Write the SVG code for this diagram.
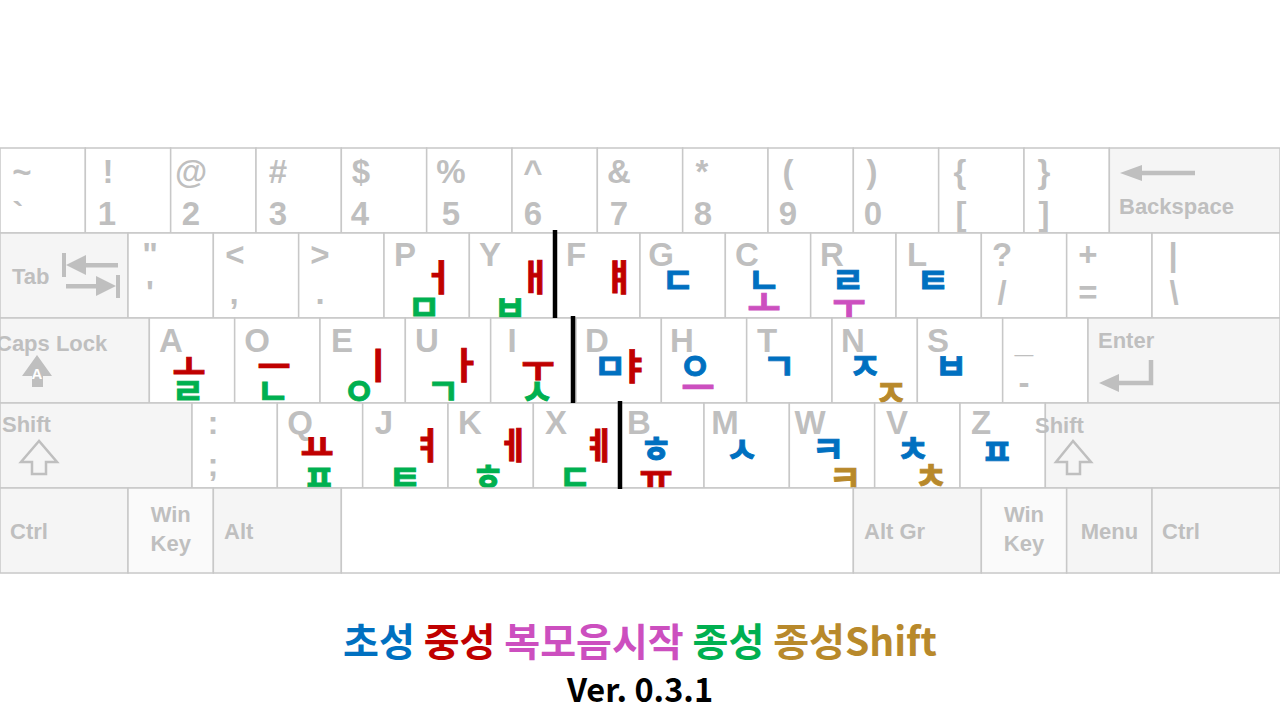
<svg xmlns="http://www.w3.org/2000/svg" width="1280" height="720" viewBox="0 0 1280 720">
<style>
.k{fill:#ffffff;stroke:#c8c8c8;stroke-width:1.5}
.m{fill:#f5f5f5;stroke:#c8c8c8;stroke-width:1.5}
.w{fill:#fafafa;stroke:#c8c8c8;stroke-width:1.5}
.l{font-family:"Liberation Sans",Arial,sans-serif;font-weight:700;font-size:33px;fill:#bfbfbf;text-anchor:middle}
.ml{font-family:"Liberation Sans",Arial,sans-serif;font-weight:700;font-size:22px;fill:#bfbfbf}
.mc{text-anchor:middle}
.j{font-family:"Noto Sans CJK KR","Noto Sans CJK SC",sans-serif;font-weight:700;font-size:36px;text-anchor:middle;stroke-width:0.9}
.b{fill:#0070c0;stroke:#0070c0}.r{fill:#c00000;stroke:#c00000}.p{fill:#cc4fbf;stroke:#cc4fbf}.g{fill:#00b050;stroke:#00b050}.y{fill:#b8892b;stroke:#b8892b}
.leg .b,.leg .r,.leg .p,.leg .g,.leg .y{stroke:none}
.ic{fill:#bfbfbf}
.ico{fill:none;stroke:#bfbfbf;stroke-width:2.5;stroke-linejoin:miter}
.sep{stroke:#000;stroke-width:4.5}
.leg{font-family:"Noto Sans CJK KR",sans-serif;font-weight:700;font-size:39px;text-anchor:middle}
</style>
<rect width="1280" height="720" fill="#ffffff"/>
<g id="row1">
<g id="key-tilde"><rect class="k" x="0" y="148" width="85.33" height="85"/><text class="l" x="22" y="183">~</text><text class="l" x="18" y="225">`</text></g>
<g id="key-1"><rect class="k" x="85.33" y="148" width="85.33" height="85"/><text class="l" x="108" y="183">!</text><text class="l" x="107" y="225">1</text></g>
<g id="key-2"><rect class="k" x="170.67" y="148" width="85.33" height="85"/><text class="l" x="191" y="183">@</text><text class="l" x="191" y="225">2</text></g>
<g id="key-3"><rect class="k" x="256" y="148" width="85.33" height="85"/><text class="l" x="278" y="183">#</text><text class="l" x="278" y="225">3</text></g>
<g id="key-4"><rect class="k" x="341.33" y="148" width="85.33" height="85"/><text class="l" x="361" y="183">$</text><text class="l" x="360" y="225">4</text></g>
<g id="key-5"><rect class="k" x="426.67" y="148" width="85.33" height="85"/><text class="l" x="451" y="183">%</text><text class="l" x="451" y="225">5</text></g>
<g id="key-6"><rect class="k" x="512" y="148" width="85.33" height="85"/><text class="l" x="533" y="183">^</text><text class="l" x="533" y="225">6</text></g>
<g id="key-7"><rect class="k" x="597.33" y="148" width="85.33" height="85"/><text class="l" x="619" y="183">&amp;</text><text class="l" x="619" y="225">7</text></g>
<g id="key-8"><rect class="k" x="682.67" y="148" width="85.33" height="85"/><text class="l" x="702" y="183">*</text><text class="l" x="703" y="225">8</text></g>
<g id="key-9"><rect class="k" x="768" y="148" width="85.33" height="85"/><text class="l" x="788" y="183">(</text><text class="l" x="788" y="225">9</text></g>
<g id="key-0"><rect class="k" x="853.33" y="148" width="85.33" height="85"/><text class="l" x="872" y="183">)</text><text class="l" x="873" y="225">0</text></g>
<g id="key-lbrace"><rect class="k" x="938.67" y="148" width="85.33" height="85"/><text class="l" x="960" y="183">{</text><text class="l" x="961" y="225">[</text></g>
<g id="key-rbrace"><rect class="k" x="1024" y="148" width="85.33" height="85"/><text class="l" x="1044" y="183">}</text><text class="l" x="1044" y="225">]</text></g>
<g id="key-backspace"><rect class="m" x="1109.33" y="148" width="170.67" height="85"/><line x1="1138" y1="173" x2="1195" y2="173" stroke="#bfbfbf" stroke-width="4.5"/><polygon class="ic" points="1120,173 1142,165 1142,181"/><text class="ml" x="1119" y="214">Backspace</text></g>
</g>
<g id="row2">
<g id="key-tab"><rect class="m" x="0" y="233" width="128" height="85"/><text class="ml" x="12" y="284">Tab</text>
<rect class="ic" x="62" y="253" width="4" height="24"/><polygon class="ic" points="66,265 86,255 86,275"/><rect class="ic" x="84" y="263" width="34" height="4.5"/>
<rect class="ic" x="116" y="275" width="4" height="23"/><polygon class="ic" points="116,286 96,276 96,296"/><rect class="ic" x="66" y="284" width="32" height="4.5"/></g>
<g id="key-quote"><rect class="k" x="128" y="233" width="85.33" height="85"/><text class="l" x="150" y="266">"</text><text class="l" x="150" y="304">'</text></g>
<g id="key-comma"><rect class="k" x="213.33" y="233" width="85.33" height="85"/><text class="l" x="235" y="266">&lt;</text><text class="l" x="234" y="304">,</text></g>
<g id="key-period"><rect class="k" x="298.67" y="233" width="85.33" height="85"/><text class="l" x="320" y="266">&gt;</text><text class="l" x="320" y="304">.</text></g>
<g id="key-p"><rect class="k" x="384" y="233" width="85.33" height="85"/><text class="l" x="405" y="266">P</text><text class="j r" x="438" y="291">ㅓ</text><text class="j g" x="424" y="321">ㅁ</text></g>
<g id="key-y"><rect class="k" x="469.33" y="233" width="85.33" height="85"/><text class="l" x="490" y="266">Y</text><text class="j r" x="535" y="291">ㅐ</text><text class="j g" x="510" y="322">ㅂ</text></g>
<g id="key-f"><rect class="k" x="554.67" y="233" width="85.33" height="85"/><text class="l" x="576" y="266">F</text><text class="j r" x="619" y="291">ㅒ</text></g>
<g id="key-g"><rect class="k" x="640" y="233" width="85.33" height="85"/><text class="l" x="661" y="266">G</text><text class="j b" x="678" y="294">ㄷ</text></g>
<g id="key-c"><rect class="k" x="725.33" y="233" width="85.33" height="85"/><text class="l" x="747" y="266">C</text><text class="j b" x="764" y="294">ㄴ</text><text class="j p" x="764" y="317">ㅗ</text></g>
<g id="key-r"><rect class="k" x="810.67" y="233" width="85.33" height="85"/><text class="l" x="832" y="266">R</text><text class="j b" x="848" y="294">ㄹ</text><text class="j p" x="849" y="320">ㅜ</text></g>
<g id="key-l"><rect class="k" x="896" y="233" width="85.33" height="85"/><text class="l" x="917" y="266">L</text><text class="j b" x="933" y="294">ㅌ</text></g>
<g id="key-slash"><rect class="k" x="981.33" y="233" width="85.33" height="85"/><text class="l" x="1002" y="266">?</text><text class="l" x="1002" y="304">/</text></g>
<g id="key-equal"><rect class="k" x="1066.67" y="233" width="85.33" height="85"/><text class="l" x="1088" y="266">+</text><text class="l" x="1088" y="304">=</text></g>
<g id="key-backslash"><rect class="k" x="1152" y="233" width="128" height="85"/><text class="l" x="1173" y="266">|</text><text class="l" x="1174" y="304">\</text></g>
</g>
<g id="row3">
<g id="key-caps"><rect class="m" x="0" y="318" width="149.33" height="85"/><text class="ml" x="-4" y="351">Caps Lock</text>
<polygon class="ic" points="37,355 22,376 32,376 32,387 43,387 43,376 52,376"/><text class="ml mc" x="37" y="379" style="fill:#fff;font-size:15px">A</text></g>
<g id="key-a"><rect class="k" x="149.33" y="318" width="85.33" height="85"/><text class="l" x="171" y="352">A</text><text class="j r" x="189" y="381">ㅗ</text><text class="j g" x="188" y="405">ㄹ</text></g>
<g id="key-o"><rect class="k" x="234.67" y="318" width="85.33" height="85"/><text class="l" x="257" y="352">O</text><text class="j r" x="274" y="380">ㅡ</text><text class="j g" x="273" y="405">ㄴ</text></g>
<g id="key-e"><rect class="k" x="320" y="318" width="85.33" height="85"/><text class="l" x="342" y="352">E</text><text class="j r" x="378" y="379">ㅣ</text><text class="j g" x="359" y="405">ㅇ</text></g>
<g id="key-u"><rect class="k" x="405.33" y="318" width="85.33" height="85"/><text class="l" x="427" y="352">U</text><text class="j r" x="465" y="379">ㅏ</text><text class="j g" x="443" y="405">ㄱ</text></g>
<g id="key-i"><rect class="k" x="490.67" y="318" width="85.33" height="85"/><text class="l" x="512" y="352">I</text><text class="j r" x="538" y="382">ㅜ</text><text class="j g" x="537" y="405">ㅅ</text></g>
<g id="key-d"><rect class="k" x="576" y="318" width="85.33" height="85"/><text class="l" x="597" y="352">D</text><text class="j b" x="610" y="380">ㅁ</text><text class="j r" x="634" y="380">ㅑ</text></g>
<g id="key-h"><rect class="k" x="661.33" y="318" width="85.33" height="85"/><text class="l" x="682" y="352">H</text><text class="j b" x="695" y="380">ㅇ</text><text class="j p" x="698" y="401">ㅡ</text></g>
<g id="key-t"><rect class="k" x="746.67" y="318" width="85.33" height="85"/><text class="l" x="767" y="352">T</text><text class="j b" x="779" y="380">ㄱ</text></g>
<g id="key-n"><rect class="k" x="832" y="318" width="85.33" height="85"/><text class="l" x="853" y="352">N</text><text class="j b" x="865" y="380">ㅈ</text><text class="j y" x="891" y="407">ㅈ</text></g>
<g id="key-s"><rect class="k" x="917.33" y="318" width="85.33" height="85"/><text class="l" x="938" y="352">S</text><text class="j b" x="951" y="380">ㅂ</text></g>
<g id="key-minus"><rect class="k" x="1002.67" y="318" width="85.33" height="85"/><text class="l" x="1024" y="352">_</text><text class="l" x="1024" y="394">-</text></g>
<g id="key-enter"><rect class="m" x="1088" y="318" width="192" height="85"/><text class="ml" x="1098" y="348">Enter</text>
<polyline points="1151,360 1151,383 1116,383" fill="none" stroke="#bfbfbf" stroke-width="4.5"/><polygon class="ic" points="1099,383 1119,374 1119,392"/></g>
</g>
<g id="row4">
<g id="key-lshift"><rect class="m" x="0" y="403" width="192" height="85"/><text class="ml" x="2" y="432">Shift</text>
<polygon class="ico" points="39,441 21,462 32,462 32,474 46,474 46,462 57,462"/></g>
<g id="key-semicolon"><rect class="k" x="192" y="403" width="85.33" height="85"/><text class="l" x="213" y="434">:</text><text class="l" x="213" y="476">;</text></g>
<g id="key-q"><rect class="k" x="277.33" y="403" width="85.33" height="85"/><text class="l" x="300" y="434">Q</text><text class="j r" x="317" y="461">ㅛ</text><text class="j g" x="319" y="491">ㅍ</text></g>
<g id="key-j"><rect class="k" x="362.67" y="403" width="85.33" height="85"/><text class="l" x="384" y="434">J</text><text class="j r" x="427" y="459">ㅕ</text><text class="j g" x="405" y="491">ㅌ</text></g>
<g id="key-k"><rect class="k" x="448" y="403" width="85.33" height="85"/><text class="l" x="470" y="434">K</text><text class="j r" x="513" y="459">ㅔ</text><text class="j g" x="488" y="491">ㅎ</text></g>
<g id="key-x"><rect class="k" x="533.33" y="403" width="85.33" height="85"/><text class="l" x="556" y="434">X</text><text class="j r" x="599" y="459">ㅖ</text><text class="j g" x="575" y="491">ㄷ</text></g>
<g id="key-b"><rect class="k" x="618.67" y="403" width="85.33" height="85"/><text class="l" x="639" y="434">B</text><text class="j b" x="656" y="463">ㅎ</text><text class="j r" x="656" y="491">ㅠ</text></g>
<g id="key-m"><rect class="k" x="704" y="403" width="85.33" height="85"/><text class="l" x="725" y="434">M</text><text class="j b" x="742" y="463">ㅅ</text></g>
<g id="key-w"><rect class="k" x="789.33" y="403" width="85.33" height="85"/><text class="l" x="810" y="434">W</text><text class="j b" x="828" y="463">ㅋ</text><text class="j y" x="845" y="492">ㅋ</text></g>
<g id="key-v"><rect class="k" x="874.67" y="403" width="85.33" height="85"/><text class="l" x="897" y="434">V</text><text class="j b" x="913" y="463">ㅊ</text><text class="j y" x="931" y="490">ㅊ</text></g>
<g id="key-z"><rect class="k" x="960" y="403" width="85.33" height="85"/><text class="l" x="981" y="434">Z</text><text class="j b" x="997" y="465">ㅍ</text></g>
<g id="key-rshift"><rect class="m" x="1045.33" y="403" width="234.67" height="85"/><text class="ml" x="1035" y="433">Shift</text>
<polygon class="ico" points="1073,441 1056,462 1067,462 1067,474 1080,474 1080,462 1091,462"/></g>
</g>
<g id="row5">
<g id="key-lctrl"><rect class="m" x="0" y="488" width="128" height="85"/><text class="ml" x="10" y="539">Ctrl</text></g>
<g id="key-lwin"><rect class="w" x="128" y="488" width="85.33" height="85"/><text class="ml mc" x="170.7" y="522">Win</text><text class="ml mc" x="170.7" y="551">Key</text></g>
<g id="key-lalt"><rect class="m" x="213.33" y="488" width="128" height="85"/><text class="ml" x="224" y="539">Alt</text></g>
<g id="key-space"><rect class="k" x="341.33" y="488" width="512" height="85"/></g>
<g id="key-altgr"><rect class="m" x="853.33" y="488" width="128" height="85"/><text class="ml" x="864" y="539">Alt Gr</text></g>
<g id="key-rwin"><rect class="w" x="981.33" y="488" width="85.33" height="85"/><text class="ml mc" x="1024" y="522">Win</text><text class="ml mc" x="1024" y="551">Key</text></g>
<g id="key-menu"><rect class="m" x="1066.67" y="488" width="85.33" height="85"/><text class="ml mc" x="1109.5" y="539">Menu</text></g>
<g id="key-rctrl"><rect class="m" x="1152" y="488" width="128" height="85"/><text class="ml" x="1162" y="539">Ctrl</text></g>
</g>
<g id="connectors">
<line class="sep" x1="555" y1="230" x2="555" y2="318"/>
<line class="sep" x1="573" y1="316" x2="573" y2="403"/>
<line class="sep" x1="620" y1="401" x2="620" y2="489"/>
</g>
<g id="legend" class="leg">
<text x="640" y="656"><tspan class="b">초성</tspan> <tspan class="r">중성</tspan> <tspan class="p">복모음시작</tspan> <tspan class="g">종성</tspan> <tspan class="y">종성Shift</tspan></text>
<text x="640" y="702" style="font-size:32.5px;fill:#000">Ver. 0.3.1</text>
</g>
</svg>
